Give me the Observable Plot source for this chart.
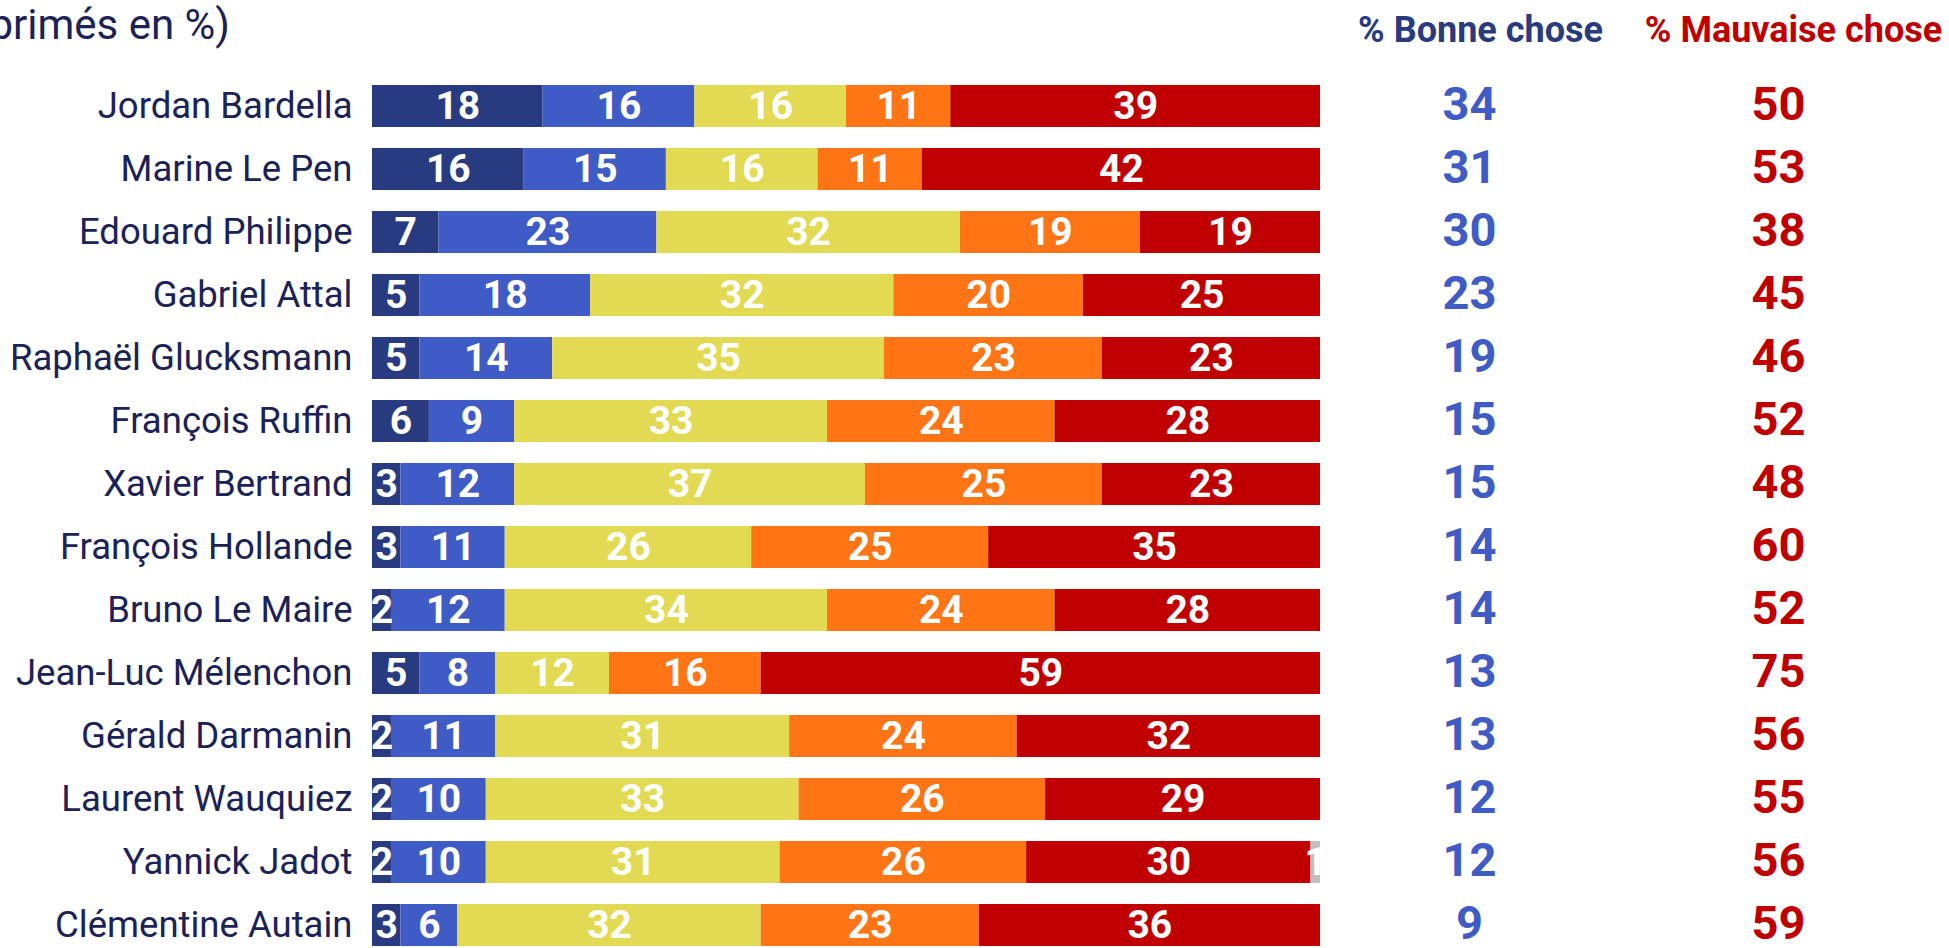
<!DOCTYPE html>
<html>
<head>
<meta charset="utf-8">
<script src="https://cdn.jsdelivr.net/npm/d3@7"></script>
<script src="https://cdn.jsdelivr.net/npm/@observablehq/plot@0.6"></script>
<style>
  html, body { margin: 0; padding: 0; background: #fff; overflow: hidden; }
  #wrap { position: relative; width: 1949px; height: 948px; overflow: hidden; }
  #title { position: absolute; top: 4px; right: calc(1949px - 230px); white-space: nowrap;
           font-family: Roboto, sans-serif; font-size: 42px; line-height: 42px; color: #1b2257; }
  #chart { position: absolute; left: 0; top: 0; }
</style>
</head>
<body>
<div id="wrap">
  <div id="chart"></div>
  <div id="title">(Résultats exprimés en %)</div>
</div>
<script>
const names = ["Jordan Bardella","Marine Le Pen","Edouard Philippe","Gabriel Attal","Raphaël Glucksmann","François Ruffin","Xavier Bertrand","François Hollande","Bruno Le Maire","Jean-Luc Mélenchon","Gérald Darmanin","Laurent Wauquiez","Yannick Jadot","Clémentine Autain"];
const categories = ["Très bonne chose","Plutôt bonne chose","Ni bonne ni mauvaise chose","Plutôt mauvaise chose","Très mauvaise chose","Ne se prononce pas"];
const tresBonne    = [18,16, 7, 5, 5, 6, 3, 3, 2, 5, 2, 2, 2, 3];
const plutotBonne  = [16,15,23,18,14, 9,12,11,12, 8,11,10,10, 6];
const ni           = [16,16,32,32,35,33,37,26,34,12,31,33,31,32];
const plutotMauv   = [11,11,19,20,23,24,25,25,24,16,24,26,26,23];
const tresMauv     = [39,42,19,25,23,28,23,35,28,59,32,29,30,36];
const nsp          = [ 0, 0, 0, 0, 0, 0, 0, 0, 0, 0, 0, 0, 1, 0];
const bonneChose   = [34,31,30,23,19,15,15,14,14,13,13,12,12, 9];
const mauvaiseChose= [50,53,38,45,46,52,48,60,52,75,56,55,56,59];
const headers = ["% Bonne chose", "% Mauvaise chose"];
const colors = ["#283a80","#3e5bc6","#e2da52","#ff7414","#c00000","#c0c0c0"];

const series = [tresBonne, plutotBonne, ni, plutotMauv, tresMauv, nsp];
const rows = [];
names.forEach((n, i) => series.forEach((s, k) => {
  if (s[i] > 0) rows.push({name: n, cat: categories[k], value: s[i]});
}));
const totals = names.map((n, i) => ({name: n, bonne: bonneChose[i], mauvaise: mauvaiseChose[i]}));

const font = "Roboto, sans-serif";

const chart = Plot.plot({
  width: 1949,
  height: 948,
  marginLeft: 372,
  marginRight: 629,
  marginTop: 83,
  marginBottom: 0,
  style: {fontFamily: font, background: "white"},
  x: {domain: [0, 100], axis: null},
  y: {domain: names, paddingInner: 0.34, paddingOuter: 0, label: null},
  color: {domain: categories, range: colors},
  marks: [
    Plot.barX(rows, Plot.stackX({x: "value", y: "name", z: "cat", fill: "cat", order: null})),
    Plot.text(rows, Plot.stackX({x: "value", y: "name", z: "cat", text: d => String(d.value), order: null,
      fill: "white", fontSize: 39, fontWeight: "bold"})),
    Plot.axisY({tickSize: 0, tickPadding: 20, fontSize: 36.5, color: "#1b2257", label: null}),
    Plot.text(totals, {y: "name", x: () => 100, text: d => String(d.bonne), dx: 149, dy: -2,
      fill: "#3e5bc6", fontSize: 47, fontWeight: "bold"}),
    Plot.text(totals, {y: "name", x: () => 100, text: d => String(d.mauvaise), dx: 458, dy: -2,
      fill: "#c00000", fontSize: 47, fontWeight: "bold"}),
    Plot.text([headers[0]], {x: () => 100, frameAnchor: "top", lineAnchor: "middle", text: d => d, dx: 160, dy: -53,
      fill: "#283a80", fontSize: 36, fontWeight: "bold"}),
    Plot.text([headers[1]], {x: () => 100, frameAnchor: "top", lineAnchor: "middle", text: d => d, dx: 473, dy: -53,
      fill: "#c00000", fontSize: 36, fontWeight: "bold"})
  ]
});
document.getElementById("chart").appendChild(chart);
</script>
</body>
</html>
